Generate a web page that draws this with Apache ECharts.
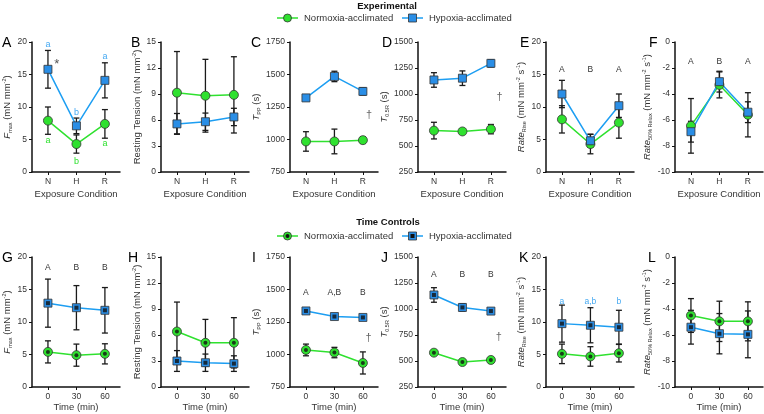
<!DOCTYPE html>
<html><head><meta charset="utf-8">
<script src="https://cdn.jsdelivr.net/npm/echarts@6/dist/echarts.min.js"></script>
<style>html,body{margin:0;padding:0;background:#fff}#c{width:764px;height:414px}</style>
</head><body><div id="c"></div>
<script>
// ---------- categories / tick labels ----------
const conditionLabels = ['N', 'H', 'R'];
const timeLabels = ['0', '30', '60'];
const yMins = [0, 0, 750, 250, 0, -10];
const yMaxs = [20, 15, 1750, 1500, 20, 0];
const ySteps = [5, 3, 250, 250, 5, 2];

// ---------- Experimental (top row) ----------
const A_norm = [7.9, 4.3, 7.4];      const A_normErr = [2.1, 1.4, 2.2];
const A_hyp = [15.8, 7.1, 14.1];     const A_hypErr = [2.9, 1.2, 2.7];
const B_norm = [9.15, 8.8, 8.9];     const B_normErr = [4.75, 4.2, 4.4];
const B_hyp = [5.55, 5.8, 6.35];     const B_hypErr = [1.2, 1.0, 1.0];
const C_norm = [985, 985, 995];      const C_normErr = [75, 95, 25];
const C_hyp = [1320, 1485, 1370];    const C_hypErr = [10, 40, 28];
const D_norm = [648, 640, 662];      const D_normErr = [80, 25, 45];
const D_hyp = [1135, 1152, 1295];    const D_hypErr = [70, 70, 35];
const E_norm = [8.1, 4.3, 7.6];      const E_normErr = [2.1, 1.5, 2.4];
const E_hyp = [12.0, 4.8, 10.2];     const E_hypErr = [2.1, 1.0, 1.8];
const F_norm = [-6.45, -3.3, -5.6];  const F_normErr = [2.1, 1.0, 1.7];
const F_hyp = [-6.9, -3.05, -5.4];   const F_hypErr = [0.8, 0.8, 0.8];

// ---------- Time Controls (bottom row) ----------
const G_norm = [5.4, 4.9, 5.1];      const G_normErr = [1.7, 1.7, 1.55];
const G_hyp = [12.9, 12.2, 11.8];    const G_hypErr = [3.7, 3.4, 3.5];
const H_norm = [6.4, 5.1, 5.1];      const H_normErr = [3.4, 2.7, 2.9];
const H_hyp = [3.0, 2.8, 2.7];       const H_hypErr = [1.2, 1.0, 0.9];
const I_norm = [1035, 1015, 935];    const I_normErr = [45, 40, 85];
const I_hyp = [1335, 1292, 1285];    const I_hypErr = [10, 22, 12];
const J_norm = [580, 490, 510];      const J_normErr = [20, 12, 12];
const J_hyp = [1135, 1015, 980];     const J_hypErr = [70, 35, 20];
const K_norm = [5.1, 4.7, 5.2];      const K_normErr = [1.5, 1.5, 1.35];
const K_hyp = [9.75, 9.5, 9.2];      const K_hypErr = [2.85, 2.7, 2.6];
const L_norm = [-4.5, -4.95, -4.95]; const L_normErr = [1.3, 1.55, 1.5];
const L_hyp = [-5.4, -5.9, -5.95];   const L_hypErr = [1.3, 1.55, 1.8];

// ---------- annotations (text, data-unit positions) ----------
const A_hypLetters = ['a', 'b', 'a'];   const A_hypLetterY = [19.6, 9.1, 17.7];
const A_normLetters = ['a', 'b', 'a'];  const A_normLetterY = [4.9, 1.6, 4.4];
const A_star = ['*'];                   const A_starX = [1.31]; const A_starY = [16.6];
const E_letters = ['A', 'B', 'A'];      const E_letterY = [15.8, 15.8, 15.8];
const F_letters = ['A', 'B', 'A'];      const F_letterY = [-1.5, -1.5, -1.5];
const G_letters = ['A', 'B', 'B'];      const G_letterY = [18.3, 18.3, 18.3];
const I_letters = ['A', 'A,B', 'B'];    const I_letterY = [1475, 1475, 1475];
const J_letters = ['A', 'B', 'B'];      const J_letterY = [1335, 1335, 1335];
const K_letters = ['a', 'a,b', 'b'];    const K_letterY = [13.1, 13.1, 13.1];
const dagger = ['\u2020'];
const C_daggerX = [3.22]; const C_daggerY = [1190];
const D_daggerX = [3.3];  const D_daggerY = [970];
const I_daggerX = [3.2];  const I_daggerY = [1125];
const J_daggerX = [3.28]; const J_daggerY = [730];

// ---------- styling ----------
const FONT = '"Liberation Sans", Arial, sans-serif';
const GREEN = '#2fe12f', BLUE = '#1d9ef2', BLUE_M = '#2a8ee6', DARK = '#1a1a1a';
const TXT = '#333';
const lefts = [32, 161, 290, 418, 546, 675];
const tops = [42, 257];

const yNames = [
  '{i|F}{sub|max}{n| (mN mm}{sup|-2}{n|)}',
  '{n|Resting Tension (mN mm}{sup|-2}{n|)}',
  '{i|T}{sub|PP}{n| (s)}',
  '{i|T}{sub|0.5R}{n| (s)}',
  '{i|Rate}{sub|Rise}{n| (mN mm}{sup|-2}{n| s}{sup|-1}{n|)}',
  '{i|Rate}{sub|50% Relax}{n| (mN mm}{sup|-2}{n| s}{sup|-1}{n|)}'
];
const nameGaps = [8, 15, 24, 25, 10, 14];

const panels = [
  [A_norm, A_normErr, A_hyp, A_hypErr], [B_norm, B_normErr, B_hyp, B_hypErr],
  [C_norm, C_normErr, C_hyp, C_hypErr], [D_norm, D_normErr, D_hyp, D_hypErr],
  [E_norm, E_normErr, E_hyp, E_hypErr], [F_norm, F_normErr, F_hyp, F_hypErr],
  [G_norm, G_normErr, G_hyp, G_hypErr], [H_norm, H_normErr, H_hyp, H_hypErr],
  [I_norm, I_normErr, I_hyp, I_hypErr], [J_norm, J_normErr, J_hyp, J_hypErr],
  [K_norm, K_normErr, K_hyp, K_hypErr], [L_norm, L_normErr, L_hyp, L_hypErr]
];

const grids = [], xAxes = [], yAxes = [], series = [];

function errSeries(gi, vals, errs) {
  return {
    type: 'custom', xAxisIndex: gi, yAxisIndex: gi, z: 1, silent: true, animation: false,
    data: vals.map((v, k) => [k + 1, v - errs[k], v + errs[k]]),
    encode: { x: 0, y: [1, 2] },
    renderItem: (params, api) => {
      const x = api.value(0);
      const lo = api.coord([x, api.value(1)]);
      const hi = api.coord([x, api.value(2)]);
      const st = { stroke: DARK, lineWidth: 1.3 };
      return { type: 'group', children: [
        { type: 'line', shape: { x1: lo[0], y1: lo[1], x2: hi[0], y2: hi[1] }, style: st },
        { type: 'line', shape: { x1: lo[0] - 3, y1: lo[1], x2: lo[0] + 3, y2: lo[1] }, style: st },
        { type: 'line', shape: { x1: hi[0] - 3, y1: hi[1], x2: hi[0] + 3, y2: hi[1] }, style: st }
      ] };
    }
  };
}
function textSeries(gi, xs, ys, texts, color, size) {
  return {
    type: 'custom', xAxisIndex: gi, yAxisIndex: gi, z: 6, silent: true, animation: false,
    data: ys.map((y, k) => [xs[k], y, k]),
    encode: { x: 0, y: 1 },
    renderItem: (params, api) => {
      const p = api.coord([api.value(0), api.value(1)]);
      return { type: 'text', x: p[0], y: p[1], style: {
        text: texts[api.value(2)], fill: color, fontSize: size, fontFamily: FONT,
        align: 'center', verticalAlign: 'middle' } };
    }
  };
}
function lineSeries(gi, name, vals, color, lineColor, symbol, size) {
  return {
    type: 'line', name: name, xAxisIndex: gi, yAxisIndex: gi, z: 3, animation: false,
    data: vals.map((v, k) => [k + 1, v]), symbol: symbol, symbolSize: size, showSymbol: true,
    lineStyle: { color: lineColor, width: 1.5 },
    itemStyle: { color: color, borderColor: '#333', borderWidth: 0.8 },
    emphasis: { disabled: true }
  };
}
function dotSeries(gi, vals, symbol) {
  return {
    type: 'scatter', xAxisIndex: gi, yAxisIndex: gi, z: 4, silent: true, animation: false,
    data: vals.map((v, k) => [k + 1, v]), symbol: symbol, symbolSize: 4,
    itemStyle: { color: '#111' }, emphasis: { disabled: true }
  };
}

panels.forEach((pd, gi) => {
  const row = Math.floor(gi / 6), col = gi % 6;
  grids.push({ left: lefts[col], top: tops[row], width: 88, height: 130 });
  const labels = row === 0 ? conditionLabels : timeLabels;
  xAxes.push({
    gridIndex: gi, type: 'value', min: 0.44, max: 3.53,
    axisLine: { show: true, onZero: false, lineStyle: { color: '#111', width: 1.5 } },
    axisTick: { show: true, customValues: [1, 2, 3], length: 3, lineStyle: { color: '#111', width: 1 } },
    axisLabel: { customValues: [1, 2, 3], formatter: v => labels[Math.round(v) - 1],
      fontSize: 8.5, color: TXT, margin: 5, fontFamily: FONT },
    splitLine: { show: false },
    name: row === 0 ? 'Exposure Condition' : 'Time (min)', nameLocation: 'middle',
    nameGap: row === 0 ? 17 : 15,
    nameTextStyle: { fontSize: 9.5, color: TXT, fontFamily: FONT }
  });
  yAxes.push({
    gridIndex: gi, type: 'value', min: yMins[col], max: yMaxs[col], interval: ySteps[col],
    axisLine: { show: true, onZero: false, lineStyle: { color: '#111', width: 1.5 } },
    axisTick: { show: true, length: 3, lineStyle: { color: '#111', width: 1 } },
    axisLabel: { fontSize: 8.5, color: TXT, margin: 5, fontFamily: FONT, formatter: v => String(v) },
    splitLine: { show: false },
    name: yNames[col], nameLocation: 'middle', nameRotate: 90, nameGap: nameGaps[col],
    nameTextStyle: { color: TXT, fontFamily: FONT, fontSize: 9.5, rich: {
      n: { fontSize: 9.5, color: TXT, fontFamily: FONT, lineHeight: 12 },
      i: { fontSize: 9.5, color: TXT, fontFamily: FONT, fontStyle: 'italic', lineHeight: 12 },
      sub: { fontSize: 5.5, color: TXT, fontFamily: FONT, lineHeight: 6, verticalAlign: 'bottom' },
      sup: { fontSize: 5.5, color: TXT, fontFamily: FONT, lineHeight: 6, verticalAlign: 'top' }
    } }
  });
  const [norm, normErr, hyp, hypErr] = pd;
  series.push(errSeries(gi, norm, normErr));
  series.push(errSeries(gi, hyp, hypErr));
  series.push(lineSeries(gi, 'Normoxia-acclimated', norm, GREEN, GREEN, 'circle', 9));
  series.push(lineSeries(gi, 'Hypoxia-acclimated', hyp, BLUE_M, BLUE, 'rect', 8));
  if (row === 1) {
    series.push(dotSeries(gi, norm, 'circle'));
    series.push(dotSeries(gi, hyp, 'rect'));
  }
});

const LBLUE = '#45a9f2', LGREEN = '#2fe12f';
series.push(textSeries(0, [1, 2, 3], A_hypLetterY, A_hypLetters, LBLUE, 9));
series.push(textSeries(0, [1, 2, 3], A_normLetterY, A_normLetters, LGREEN, 9));
series.push(textSeries(0, A_starX, A_starY, A_star, '#555', 13));
series.push(textSeries(4, [1, 2, 3], E_letterY, E_letters, '#333', 8.5));
series.push(textSeries(5, [1, 2, 3], F_letterY, F_letters, '#333', 8.5));
series.push(textSeries(6, [1, 2, 3], G_letterY, G_letters, '#333', 8.5));
series.push(textSeries(8, [1, 2, 3], I_letterY, I_letters, '#333', 8.5));
series.push(textSeries(9, [1, 2, 3], J_letterY, J_letters, '#333', 8.5));
series.push(textSeries(10, [1, 2, 3], K_letterY, K_letters, LBLUE, 8.5));
series.push(textSeries(2, C_daggerX, C_daggerY, dagger, '#666', 11));
series.push(textSeries(3, D_daggerX, D_daggerY, dagger, '#666', 11));
series.push(textSeries(8, I_daggerX, I_daggerY, dagger, '#666', 11));
series.push(textSeries(9, J_daggerX, J_daggerY, dagger, '#666', 11));

// ---------- titles, legends, panel letters ----------
const graphics = [];
function addText(x, y, text, size, weight, color, align) {
  graphics.push({ type: 'text', x: x, y: y, silent: true, style: {
    text: text, fontSize: size, fontWeight: weight || 'normal', fill: color || '#000',
    fontFamily: FONT, align: align || 'left', verticalAlign: 'middle' } });
}
function addLegend(y, dots) {
  graphics.push({ type: 'line', shape: { x1: 277, y1: y, x2: 298, y2: y }, style: { stroke: GREEN, lineWidth: 1.5 } });
  graphics.push({ type: 'circle', shape: { cx: 287.5, cy: y, r: 4 }, style: { fill: GREEN, stroke: '#333', lineWidth: 0.8 } });
  graphics.push({ type: 'line', shape: { x1: 402, y1: y, x2: 423, y2: y }, style: { stroke: BLUE, lineWidth: 1.5 } });
  graphics.push({ type: 'rect', shape: { x: 408.5, y: y - 4, width: 8, height: 8 }, style: { fill: BLUE_M, stroke: '#333', lineWidth: 0.8 } });
  if (dots) {
    graphics.push({ type: 'circle', shape: { cx: 287.5, cy: y, r: 2 }, style: { fill: '#111' } });
    graphics.push({ type: 'rect', shape: { x: 410.5, y: y - 2, width: 4, height: 4 }, style: { fill: '#111' } });
  }
  addText(304, y, 'Normoxia-acclimated', 9.5, 'normal', TXT);
  addText(429, y, 'Hypoxia-acclimated', 9.5, 'normal', TXT);
}
addText(387, 6, 'Experimental', 9.5, 'bold', '#111', 'center');
addLegend(18, false);
addText(388, 222, 'Time Controls', 9.5, 'bold', '#111', 'center');
addLegend(236, true);
const panelLetters = ['A', 'B', 'C', 'D', 'E', 'F', 'G', 'H', 'I', 'J', 'K', 'L'];
const letterX = [2, 131, 251, 382, 520, 649, 2, 128, 252, 381, 519, 648];
panelLetters.forEach((t, i) => addText(letterX[i], i < 6 ? 43 : 258, t, 14, 'normal', '#000'));

const chart = echarts.init(document.getElementById('c'), null, { renderer: 'canvas' });
chart.setOption({
  animation: false, backgroundColor: '#fff',
  grid: grids, xAxis: xAxes, yAxis: yAxes, series: series, graphic: graphics
});
</script></body></html>
